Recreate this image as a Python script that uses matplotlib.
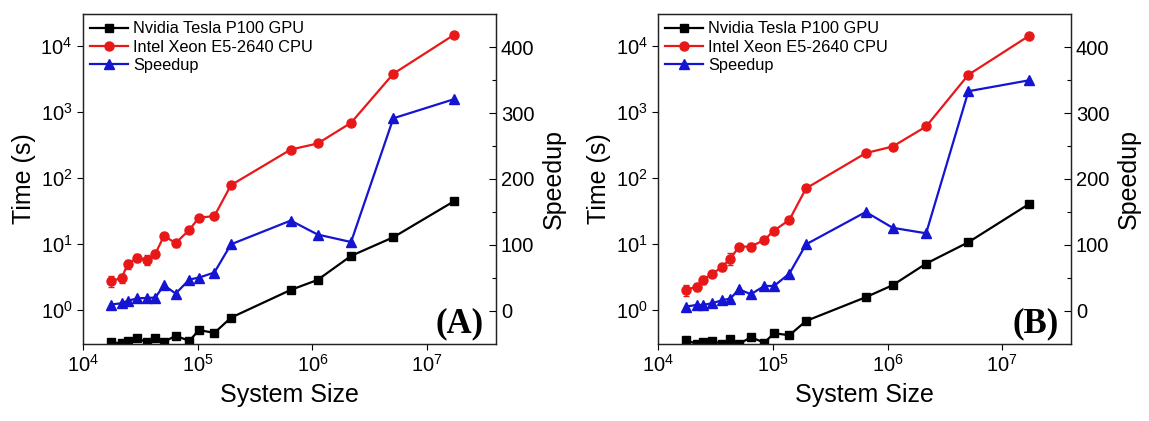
import numpy as np
import matplotlib
matplotlib.use('Agg')
import matplotlib.pyplot as plt

plt.rcParams['font.family'] = ['Liberation Sans', 'DejaVu Sans']
plt.rcParams['mathtext.default'] = 'regular'

# system sizes (shared by both panels)
sizes = [17.5e3, 21.7e3, 24.5e3, 29.7e3, 35.9e3, 42.7e3, 50.8e3, 64.3e3, 84.5e3,
         102.6e3, 139.6e3, 195e3, 647e3, 1.11e6, 2.17e6, 5.07e6, 17.2e6]

# panel A
gpu_a = [0.324, 0.313, 0.336, 0.373, 0.324, 0.38, 0.327, 0.408, 0.339, 0.497,
         0.448, 0.764, 2.01, 2.85, 6.58, 12.6, 44.4]
cpu_a = [2.75, 3.02, 4.92, 6.14, 5.72, 7.05, 13.2, 10.3, 16.3, 25.0, 26.3, 77.5,
         268, 331, 681, 3766, 14680]
cpu_err_a = [0.5, 0.5, 0.8, 0.9, 1.0, 1.0, 1.3, 1.3, 1.6, 1.5, 1.5, 3,
             8, 8, 15, 60, 200]
spd_a = [9.7, 11.7, 15.2, 19.2, 19.7, 20.3, 38.9, 26.4, 47.6, 50.6, 58.2, 101,
         137, 115.8, 104.5, 292, 321]

# panel B
gpu_b = [0.351, 0.305, 0.331, 0.343, 0.305, 0.36, 0.305, 0.386, 0.32, 0.444,
         0.414, 0.681, 1.56, 2.37, 5.03, 10.6, 40.4]
cpu_b = [2.01, 2.25, 2.85, 3.51, 4.44, 5.98, 9.1, 9.1, 11.5, 15.9, 23.1, 69.3,
         237, 298, 599, 3636, 14200]
cpu_err_b = [0.4, 0.3, 0.4, 0.4, 0.5, 1.2, 1.0, 1.3, 1.3, 1.2, 1.5, 3,
             8, 8, 15, 60, 200]
spd_b = [6.7, 9.1, 9.1, 11.7, 16.2, 18.8, 32.9, 25.3, 37.9, 37.9, 56.7, 101,
         150, 126, 117.7, 333, 349.6]

panels = [(gpu_a, cpu_a, cpu_err_a, spd_a, '(A)'),
          (gpu_b, cpu_b, cpu_err_b, spd_b, '(B)')]

red = '#e81818'
blue = '#1414d2'

fig = plt.figure(figsize=(11.49, 4.21), dpi=100)
lefts = [0.0722, 0.5727]
for k, (gpu, cpu, err, spd, tag) in enumerate(panels):
    ax = fig.add_axes([lefts[k], 0.183, 0.3595, 0.7837])
    l1, = ax.plot(sizes, gpu, '-s', color='black', lw=1.6, ms=5.5)
    eb = ax.errorbar(sizes, cpu, yerr=err, fmt='-o', color=red, lw=1.6, ms=6.5,
                     capsize=2.5, elinewidth=1.0)
    ax.set_xscale('log')
    ax.set_yscale('log')
    ax.set_xlim(1e4, 10**7.6)
    ax.set_ylim(10**-0.515, 10**4.48)
    ax.minorticks_off()
    ax.tick_params(axis='both', which='major', direction='out', length=4,
                   width=0.8, labelsize=14.5, top=False, right=False)
    ax.set_xlabel('System Size', fontsize=18, labelpad=5)
    ax.set_ylabel('Time (s)', fontsize=18, labelpad=3)
    ax.text(0.97, 0.012, tag, transform=ax.transAxes, ha='right', va='bottom',
            fontsize=25, fontweight='bold', family='Liberation Serif')

    ax2 = ax.twinx()
    l3, = ax2.plot(sizes, spd, '-^', color=blue, lw=1.6, ms=6.5)
    ax2.set_ylim(-50, 450)
    ax2.set_yticks([0, 100, 200, 300, 400])
    ax2.set_yticks([50, 150, 250, 350], minor=True)
    ax2.tick_params(axis='y', which='major', direction='in', length=5, width=0.8,
                    labelsize=14.5)
    ax2.tick_params(axis='y', which='minor', direction='in', length=3, width=0.8)
    ax2.set_ylabel('Speedup', fontsize=18, labelpad=5)
    for a in (ax, ax2):
        for s in a.spines.values():
            s.set_linewidth(0.9)
            s.set_color('#222222')

    ax2.legend([l1, eb[0], l3], ['Nvidia Tesla P100 GPU', 'Intel Xeon E5-2640 CPU', 'Speedup'],
               loc='upper left', frameon=False, fontsize=11.8, handlelength=2.3,
               handletextpad=0.3, labelspacing=0.2, borderaxespad=0.35, borderpad=0.1)

fig.savefig('out.png', dpi=100)
